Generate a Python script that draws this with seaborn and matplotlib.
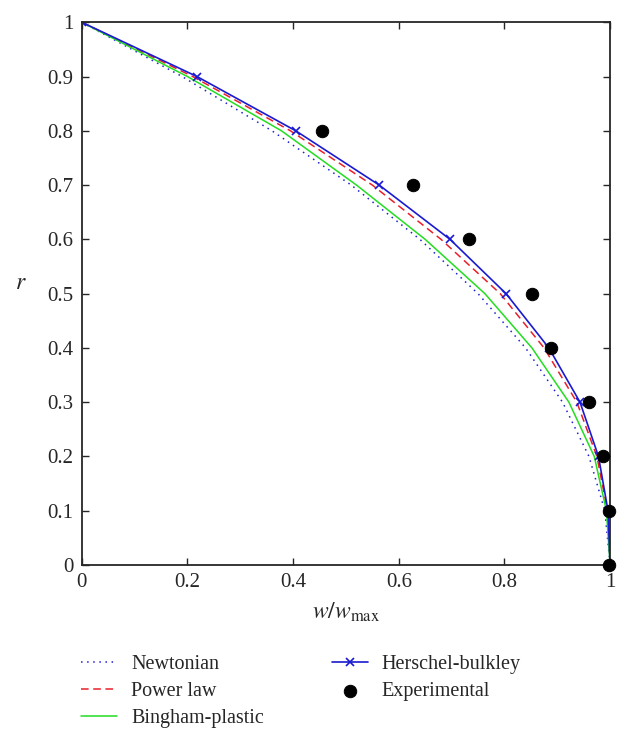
import numpy as np
import pandas as pd
import seaborn as sns
import matplotlib
matplotlib.use("Agg")
import matplotlib.pyplot as plt
from matplotlib.ticker import FormatStrFormatter, MultipleLocator

# radial position (shared by all model curves)
r = [1.0, 0.9, 0.8, 0.7, 0.6, 0.5, 0.4, 0.3, 0.2, 0.1, 0.0]

# normalised velocity w/w_max
newtonian = [0.0, 0.19, 0.36, 0.51, 0.64, 0.75, 0.84, 0.91, 0.96, 0.99, 1.0]
power_law = [0.0, 0.21, 0.395, 0.55, 0.68, 0.792, 0.875, 0.937, 0.975, 0.995, 1.0]
bingham = [0.0, 0.20, 0.378, 0.52, 0.65, 0.763, 0.852, 0.922, 0.970, 0.993, 1.0]
herschel = [0.0, 0.218, 0.405, 0.563, 0.697, 0.803, 0.884, 0.943, 0.978, 0.996, 1.0]

exp_r = [0.8, 0.7, 0.6, 0.5, 0.4, 0.3, 0.2, 0.1, 0.0]
exp_w = [0.455, 0.627, 0.733, 0.852, 0.889, 0.960, 0.987, 0.998, 0.998]

sns.set_style("ticks")
plt.rcParams["font.family"] = ["Liberation Serif", "DejaVu Serif"]
plt.rcParams["mathtext.fontset"] = "stix"

fig = plt.figure(figsize=(6.29, 7.42), dpi=100)
ax = fig.add_axes([0.130, 0.2385, 0.840, 0.7315])

sns.lineplot(x=newtonian, y=r, ax=ax, sort=False, estimator=None, color="#2020d0",
             linestyle=(0, (1, 3)), linewidth=1.1, label="Newtonian")
sns.lineplot(x=power_law, y=r, ax=ax, sort=False, estimator=None, color="#e8202a",
             linestyle=(0, (5, 3)), linewidth=1.1, label="Power law")
sns.lineplot(x=bingham, y=r, ax=ax, sort=False, estimator=None, color="#22dd22",
             linewidth=1.1, label="Bingham-plastic")
sns.lineplot(x=herschel, y=r, ax=ax, sort=False, estimator=None, color="#1a1ad0",
             linewidth=1.2, marker="x", markersize=6, markeredgewidth=1.2,
             markeredgecolor="#1a1ad0", label="Herschel-bulkley")
sns.scatterplot(x=exp_w, y=exp_r, ax=ax, color="black", s=80, edgecolor="black",
                zorder=5, clip_on=False, label="Experimental")

ax.set_xlim(0, 1)
ax.set_ylim(0, 1)
ax.xaxis.set_major_locator(MultipleLocator(0.2))
ax.yaxis.set_major_locator(MultipleLocator(0.1))
ax.xaxis.set_major_formatter(FormatStrFormatter("%g"))
ax.yaxis.set_major_formatter(FormatStrFormatter("%g"))
ax.tick_params(direction="in", top=True, right=True, length=5, width=1,
               labelsize=15, pad=6)
for s in ax.spines.values():
    s.set_linewidth(1.3)

ax.set_xlabel(r"$w/w_{\mathrm{max}}$", fontsize=17, labelpad=6)
ax.set_ylabel(r"$r$", fontsize=17, rotation=0)
ax.yaxis.set_label_coords(-0.115, 0.5)

handles, labels = ax.get_legend_handles_labels()
ax.legend_.remove()
fig.legend(handles, labels, ncol=2, loc="upper left", bbox_to_anchor=(0.1, 0.142),
           frameon=False, fontsize=14.5, handlelength=1.8, columnspacing=3.35,
           labelspacing=0.4, handletextpad=0.7)

fig.savefig("out.png", dpi=100)
